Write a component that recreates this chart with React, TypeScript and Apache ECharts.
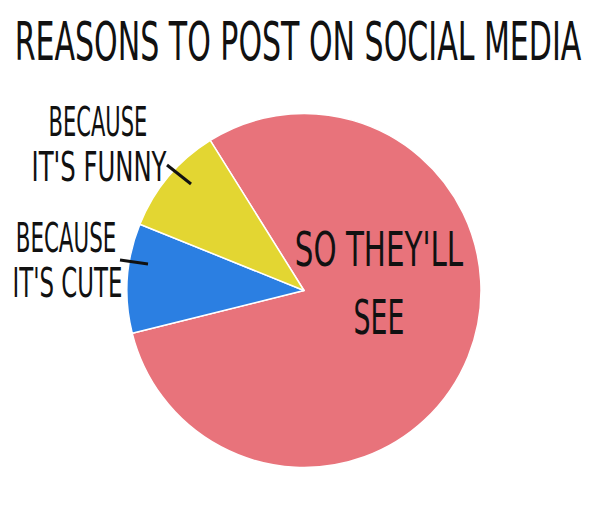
import React, { useEffect, useRef } from "react";
import * as echarts from "echarts";

const titleText = "REASONS TO POST ON SOCIAL MEDIA";
const categories = ["SO THEY'LL SEE", "BECAUSE IT'S CUTE", "BECAUSE IT'S FUNNY"];
const values = [80, 10, 10];
const colors = ["#E8737B", "#2B7FE2", "#E3D632"];

const FONT = "'Liberation Sans Narrow', 'DejaVu Sans Condensed', 'Roboto Condensed', 'Liberation Sans', sans-serif";

function txt(text: string, x: number, y: number, size: number, sx: number) {
  return {
    type: "text",
    x,
    y,
    scaleX: sx,
    z: 10,
    style: {
      text,
      x: 0,
      y: 0,
      fill: "#111",
      font: `normal ${size}px ${FONT}`,
      textAlign: "center",
      textVerticalAlign: "middle",
    },
  };
}

export default function App() {
  const ref = useRef<HTMLDivElement>(null);
  useEffect(() => {
    document.body.style.margin = "0";
    const chart = echarts.init(ref.current!, undefined, { renderer: "svg" });
    chart.setOption({
      animation: false,
      backgroundColor: "#ffffff",
      series: [
        {
          type: "pie",
          center: [304, 290.5],
          radius: 177,
          startAngle: 122,
          clockwise: true,
          label: { show: false },
          labelLine: { show: false },
          itemStyle: { borderColor: "#ffffff", borderWidth: 1.5 },
          data: categories.map((c, i) => ({ name: c, value: values[i], itemStyle: { color: colors[i] } })),
        },
      ],
      graphic: [
        txt(titleText, 298, 41, 53, 0.63),
        txt("BECAUSE", 98, 122, 41, 0.57),
        txt("IT'S FUNNY", 99, 167, 41, 0.66),
        txt("BECAUSE", 66, 238, 41, 0.58),
        txt("IT'S CUTE", 67.5, 283, 41, 0.62),
        txt("SO THEY'LL", 379, 250, 48, 0.68),
        txt("SEE", 379, 317, 48, 0.62),
        { type: "line", z: 10, shape: { x1: 167, y1: 165, x2: 191, y2: 184 }, style: { stroke: "#111", lineWidth: 3 } },
        { type: "line", z: 10, shape: { x1: 120, y1: 260, x2: 148, y2: 264 }, style: { stroke: "#111", lineWidth: 3 } },
      ],
    });
    return () => chart.dispose();
  }, []);
  return <div ref={ref} style={{ width: 600, height: 505 }} />;
}
